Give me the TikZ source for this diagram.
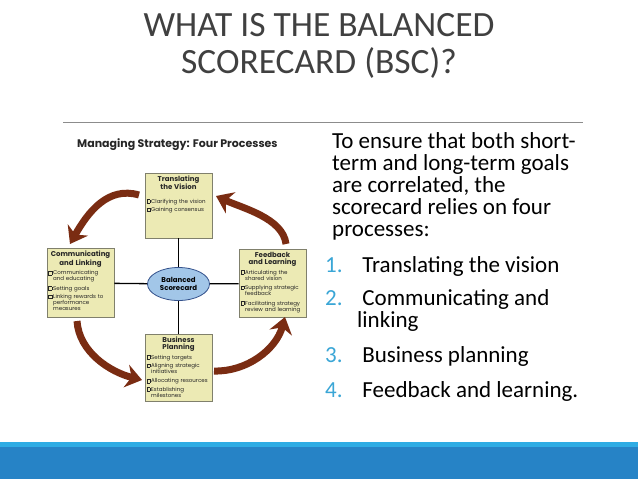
\documentclass[tikz,border=0pt]{standalone}
\usepackage{fontspec}
\setmainfont{Carlito}
\newfontfamily\figfont{Poppins}
\usepackage{tikz}
\usetikzlibrary{shapes.geometric}
\usetikzlibrary{arrows.meta}
\usepackage{xcolor}
\definecolor{titlegray}{RGB}{64,64,64}
\definecolor{rulegray}{RGB}{140,140,140}
\definecolor{listblue}{RGB}{58,166,214}
\definecolor{barlight}{RGB}{46,172,228}
\definecolor{bardark}{RGB}{38,131,198}
\definecolor{boxfill}{RGB}{236,234,180}
\definecolor{boxline}{RGB}{128,128,108}
\definecolor{hubfill}{RGB}{162,198,232}
\definecolor{hubline}{RGB}{52,82,140}
\definecolor{arrowbrown}{RGB}{122,44,18}
\tikzstyle{slidetitle}=[text=titlegray, font=\fontsize{35.5}{35.5}\selectfont, inner sep=0pt]
\tikzstyle{bodytext}=[text=black, font=\fontsize{23}{22}\selectfont, inner sep=0pt]
\tikzstyle{procbox}=[draw=boxline, fill=boxfill, line width=0.8pt, minimum width=67, inner sep=0pt]
\tikzstyle{boxtext}=[text width=64, align=left, inner xsep=1.5pt, inner ysep=3pt, text=black!85, font=\figfont\fontsize{5.5}{6}\selectfont]
\tikzstyle{hub}=[ellipse, draw=hubline, fill=hubfill, line width=0.8pt, minimum width=62, minimum height=33, inner sep=0pt, align=center, font=\figfont\bfseries\fontsize{7}{7.4}\selectfont]
\tikzstyle{spoke}=[draw=black, line width=1.3pt]
\tikzstyle{bigarrow}=[draw=arrowbrown, line width=7pt, -{Stealth[length=16pt,width=23pt]}]
\newcommand{\cbox}{\raisebox{0.05em}{\setlength{\fboxsep}{0pt}\setlength{\fboxrule}{0.3pt}\fbox{\rule{0pt}{0.6em}\hspace{0.6em}}}}
\newcommand{\boxhead}[1]{{\centering\figfont\bfseries\fontsize{7}{7.2}\selectfont #1\par}}
\newcommand{\boxitem}[1]{\par\vspace{2.4pt}\noindent\makebox[0.85em][l]{\cbox}\begin{tabular}[t]{@{}l@{}}#1\end{tabular}}

\begin{document}
\begin{tikzpicture}[x=1pt,y=-1pt]
\useasboundingbox (0,0) rectangle (638,479);
\fill[white] (0,0) rectangle (638,479);
% slide title
\node[slidetitle] (t1) at (319,25) {WHAT IS THE BALANCED};
\node[slidetitle] (t2) at (319,63) {SCORECARD (BSC)?};
\draw[rulegray, line width=1pt] (63,122) -- (583,122);
% bottom band
\fill[barlight] (0,442) rectangle (638,447);
\fill[bardark] (0,447) rectangle (638,479);
% figure
\node[anchor=west, text=black!85, inner sep=0pt, font=\figfont\bfseries\fontsize{11}{11}\selectfont] (mst) at (77,145) {Managing Strategy: Four Processes};
\node[procbox, minimum height=65] (tv) at (178.5,205.5) {};
\node[procbox, minimum height=69] (cl) at (80.5,283) {};
\node[procbox, minimum height=68] (fl) at (272.5,283.5) {};
\node[procbox, minimum height=67] (bp) at (178.5,367.5) {};
\node[hub] (bsc) at (178.5,284) {Balanced\\Scorecard};
\draw[spoke] (tv) -- (bsc);
\draw[spoke] (bsc) -- (bp);
\draw[spoke] (cl) -- (bsc);
\draw[spoke] (bsc) -- (fl);
\node[boxtext, anchor=north] (tvtxt) at (tv.north) {\boxhead{Translating\\the Vision}\vspace{5pt}\boxitem{Clarifying the vision}\boxitem{Gaining consensus}};
\node[boxtext, anchor=north] (cltxt) at (cl.north) {\boxhead{Communicating\\and Linking}\boxitem{Communicating\\and educating}\boxitem{Setting goals}\boxitem{Linking rewards to\\performance\\measures}};
\node[boxtext, anchor=north] (fltxt) at (fl.north) {\boxhead{Feedback\\and Learning}\boxitem{Articulating the\\shared vision}\boxitem{Supplying strategic\\feedback}\boxitem{Facilitating strategy\\review and learning}};
\node[boxtext, anchor=north] (bptxt) at (bp.north) {\boxhead{Business\\Planning}\boxitem{Setting targets}\boxitem{Aligning strategic\\initiatives}\boxitem{Allocating resources}\boxitem{Establishing\\milestones}};
% cycle arrows
\coordinate (a1s) at (139,195);
\coordinate (a1e) at (70,244);
\coordinate (a2s) at (286,244);
\coordinate (a2e) at (216,196);
\coordinate (a3s) at (77,321);
\coordinate (a3e) at (142,380);
\coordinate (a4s) at (214,371);
\coordinate (a4e) at (285,317);
\draw[bigarrow] (a1s) .. controls (108,186) and (88,212) .. (a1e);
\draw[bigarrow] (a2s) .. controls (283,218) and (242,208) .. (a2e);
\draw[bigarrow] (a3s) .. controls (79,352) and (110,372) .. (a3e);
\draw[bigarrow] (a4s) .. controls (246,372) and (276,350) .. (a4e);
% right-hand text
\node[bodytext, anchor=north west, align=left] (intro) at (332,132) {To ensure that both short-\\term and long-term goals\\are correlated, the\\scorecard relies on four\\processes:};
\node[bodytext, anchor=base west, text=listblue] (n1) at (325,272) {1.};
\node[bodytext, anchor=base west, text=listblue] (n2) at (325,305) {2.};
\node[bodytext, anchor=base west, text=listblue] (n3) at (325,362) {3.};
\node[bodytext, anchor=base west, text=listblue] (n4) at (325,397) {4.};
\node[bodytext, anchor=base west] (i1) at (357,272) {\ Translating the vision};
\node[bodytext, anchor=base west] (i2) at (357,305) {\ Communicating and};
\node[bodytext, anchor=base west] (i2b) at (357,327) {linking};
\node[bodytext, anchor=base west] (i3) at (357,362) {\ Business planning};
\node[bodytext, anchor=base west] (i4) at (357,397) {\ Feedback and learning.};
\end{tikzpicture}
\end{document}
